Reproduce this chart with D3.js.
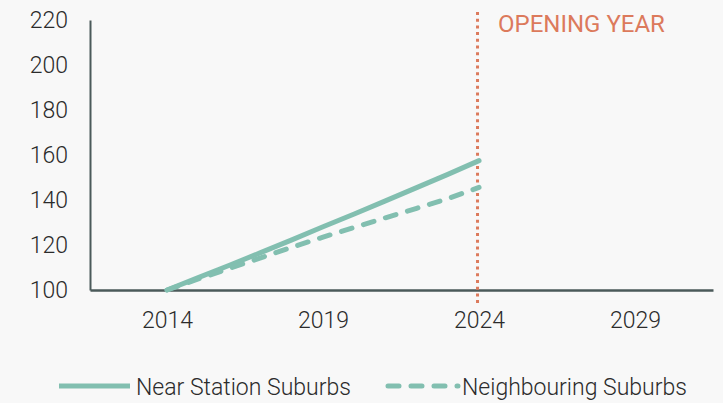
<!DOCTYPE html>
<html><head><meta charset="utf-8">
<script src="https://cdn.jsdelivr.net/npm/d3@7"></script>
<style>
html,body{margin:0;padding:0;background:#f8f8f8;}
svg{display:block;font-family:Roboto, "Open Sans", sans-serif;}
</style></head>
<body><svg id="c" width="723" height="403"></svg>
<script>
const years = [2014,2015,2016,2017,2018,2019,2020,2021,2022,2023,2024];
const nearStation = [100,105.5,111,116.6,122.3,128.1,133.8,139.6,145.5,151.4,157.5];
const neighbouring = [100,104.9,109.6,114.3,119,123.5,127.8,132.1,136.3,140.6,145.6];
const yTicks = [100,120,140,160,180,200,220];
const xTicks = [2014,2019,2024,2029];
const openingYear = 2024;
const seriesNames = ["Near Station Suburbs","Neighbouring Suburbs"];

const svg = d3.select("#c");
const x = d3.scaleLinear().domain([2011.53,2031.5]).range([90,713]);
const y = d3.scaleLinear().domain([100,220]).range([290,20]);
const lineCol = "#82bfb0", accent = "#dc7a5c", axisCol = "#4b5a5a", textCol = "#2b2b2b";
const fs = 23;

// Y axis
const ya = svg.append("g").attr("transform","translate(90,0)")
  .call(d3.axisLeft(y).tickValues(yTicks).tickSize(0).tickPadding(22));
ya.select(".domain").attr("stroke",axisCol).attr("stroke-width",2);
ya.selectAll("text").attr("font-size",fs).attr("fill",textCol).attr("font-weight",300).attr("font-family","Roboto");

// X axis
const xa = svg.append("g").attr("transform","translate(0,290)")
  .call(d3.axisBottom(x).tickValues(xTicks).tickFormat(d3.format("d")).tickSize(0).tickPadding(22));
xa.select(".domain").attr("stroke",axisCol).attr("stroke-width",2.5);
xa.selectAll("text").attr("font-size",fs).attr("fill",textCol).attr("font-weight",300).attr("font-family","Roboto");

// Opening year line
svg.append("line").attr("x1",x(openingYear)-1.5).attr("x2",x(openingYear)-1.5)
  .attr("y1",12).attr("y2",304).attr("stroke",accent).attr("stroke-width",3)
  .attr("stroke-dasharray","3,3.7");
svg.append("text").attr("x",x(openingYear)+19).attr("y",31.5).text("OPENING YEAR")
  .attr("fill",accent).attr("font-size",24).attr("font-weight",400).attr("font-family","Roboto");

const line = d3.line().x((d,i)=>x(years[i])).y(d=>y(d));
svg.append("path").datum(nearStation).attr("d",line).attr("fill","none")
  .attr("stroke",lineCol).attr("stroke-width",5).attr("stroke-linecap","round");
svg.append("path").datum(neighbouring).attr("d",line).attr("fill","none")
  .attr("stroke",lineCol).attr("stroke-width",5).attr("stroke-linecap","round")
  .attr("stroke-dasharray","11,12");

// Legend
const lg = svg.append("g");
lg.append("line").attr("x1",59).attr("x2",130).attr("y1",386).attr("y2",386)
  .attr("stroke",lineCol).attr("stroke-width",5);
lg.append("text").attr("x",136).attr("y",394.5).text(seriesNames[0])
  .attr("font-size",fs).attr("fill",textCol).attr("font-weight",300).attr("font-family","Roboto");
lg.append("line").attr("x1",388).attr("x2",458).attr("y1",386).attr("y2",386)
  .attr("stroke",lineCol).attr("stroke-width",5).attr("stroke-linecap","round")
  .attr("stroke-dasharray","11,12");
lg.append("text").attr("x",462).attr("y",394.5).text(seriesNames[1])
  .attr("font-size",fs).attr("fill",textCol).attr("font-weight",300).attr("font-family","Roboto");
</script></body></html>
